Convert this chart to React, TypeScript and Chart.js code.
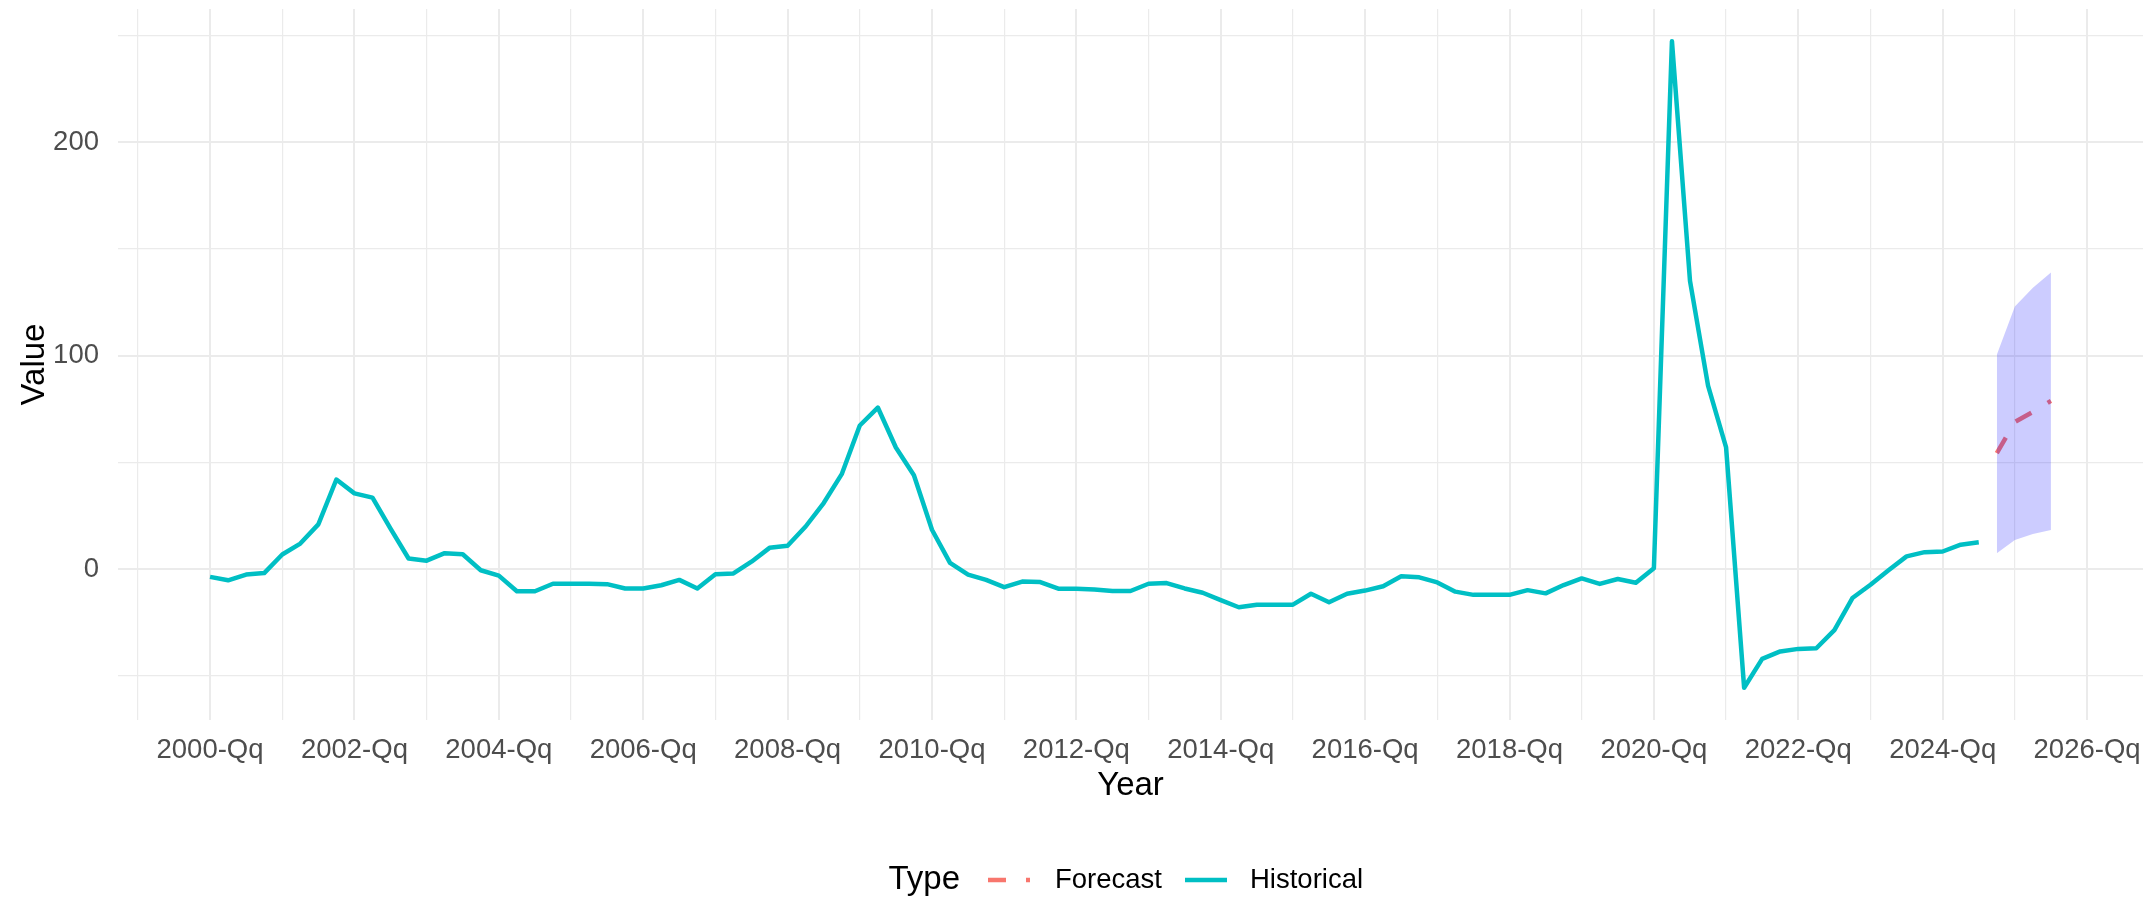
import React, { useEffect, useRef } from 'react';
import { Chart, registerables } from 'chart.js';

Chart.register(...registerables);

const FONT = "'Liberation Sans', Arial, Helvetica, sans-serif";

// ---- data (quarterly, first value = 2000 Q1) ----
const historyStartYear = 2000;
const historicalValues = [
  -3.6, -5.2, -2.5, -1.8,
  6.9, 12, 21, 42,
  35.5, 33.5, 19, 5,
  4, 7.5, 7, -0.5,
  -3, -10.3, -10.3, -6.8,
  -6.8, -6.8, -7, -9,
  -9, -7.5, -5, -9,
  -2.4, -2, 3.5, 10,
  11, 20, 31, 44.5,
  67.3, 75.7, 57, 44,
  18.5, 3, -2.5, -5,
  -8.4, -5.8, -6, -9.1,
  -9.1, -9.5, -10.2, -10.2,
  -6.8, -6.5, -9, -11,
  -14.5, -17.8, -16.6, -16.6,
  -16.6, -11.5, -15.5, -11.5,
  -10, -8, -3.3, -3.8,
  -6.2, -10.5, -12, -12,
  -12, -9.8, -11.3, -7.4,
  -4.3, -6.9, -4.6, -6.3,
  0.5, 247.2, 135, 86,
  57, -55.5, -42, -38.5,
  -37.3, -37, -28.5, -13.5,
  -7.3, -0.5, 6, 8,
  8.3, 11.5, 12.6,
];

// forecast starts 2024 Q4
const forecastStartYear = 2024.75;
const forecastValues = [54.3, 68.9, 73.7, 78.8];
const forecastLower = [7.5, 13.7, 16.5, 18.4];
const forecastUpper = [100.4, 123.0, 131.8, 138.9];

// axis settings
const xLimits = [1998.725, 2026.775];
const yLimits = [-70.6, 262.3];
const xLabelYears = [2000, 2002, 2004, 2006, 2008, 2010, 2012, 2014, 2016, 2018, 2020, 2022, 2024, 2026];
const yLabelValues = [0, 100, 200];

const legendTitle = 'Type';
const legendItems = ['Forecast', 'Historical'];

const HIST_COLOR = '#00BFC4';
const FC_COLOR = '#F8766D';
const RIBBON_COLOR = 'rgba(0, 0, 255, 0.2)';
const GRID_COLOR = '#EBEBEB';

const toPoints = (start: number, values: number[]) =>
  values.map((v, i) => ({ x: start + i / 4, y: v }));

const textPlugin = {
  id: 'ggText',
  afterDraw(chart: any) {
    const ctx = chart.ctx as CanvasRenderingContext2D;
    const area = chart.chartArea;
    ctx.save();
    ctx.fillStyle = '#000000';
    ctx.font = `33px ${FONT}`;
    ctx.textAlign = 'center';
    ctx.textBaseline = 'alphabetic';
    ctx.fillText('Year', (area.left + area.right) / 2, 795);

    ctx.save();
    ctx.translate(44, (area.top + area.bottom) / 2);
    ctx.rotate(-Math.PI / 2);
    ctx.fillText('Value', 0, 0);
    ctx.restore();

    // legend
    const ly = 880;
    ctx.textBaseline = 'middle';
    ctx.textAlign = 'right';
    ctx.font = `33px ${FONT}`;
    ctx.fillText(legendTitle, 960, ly);

    ctx.lineWidth = 4.5;
    ctx.lineCap = 'butt';
    ctx.strokeStyle = FC_COLOR;
    ctx.setLineDash([18, 20]);
    ctx.beginPath();
    ctx.moveTo(988, ly);
    ctx.lineTo(1030, ly);
    ctx.stroke();

    ctx.setLineDash([]);
    ctx.strokeStyle = HIST_COLOR;
    ctx.beginPath();
    ctx.moveTo(1185, ly);
    ctx.lineTo(1227, ly);
    ctx.stroke();

    ctx.textAlign = 'left';
    ctx.font = `27.5px ${FONT}`;
    ctx.fillText(legendItems[0], 1055, ly);
    ctx.fillText(legendItems[1], 1250, ly);
    ctx.restore();
  },
};

export default function App() {
  const ref = useRef<HTMLCanvasElement>(null);

  useEffect(() => {
    const canvas = ref.current;
    if (!canvas) return;
    const chart = new Chart(canvas, {
      type: 'line',
      data: {
        datasets: [
          {
            label: 'upper',
            data: toPoints(forecastStartYear, forecastUpper),
            borderColor: 'rgba(0,0,0,0)',
            borderWidth: 0,
            pointRadius: 0,
            fill: '+1',
            backgroundColor: RIBBON_COLOR,
            tension: 0,
          },
          {
            label: 'lower',
            data: toPoints(forecastStartYear, forecastLower),
            borderColor: 'rgba(0,0,0,0)',
            borderWidth: 0,
            pointRadius: 0,
            fill: false,
            tension: 0,
          },
          {
            label: legendItems[0],
            data: toPoints(forecastStartYear, forecastValues),
            borderColor: FC_COLOR,
            borderWidth: 4.5,
            borderDash: [18, 19],
            pointRadius: 0,
            fill: false,
            tension: 0,
          },
          {
            label: legendItems[1],
            data: toPoints(historyStartYear, historicalValues),
            borderColor: HIST_COLOR,
            borderWidth: 4.5,
            borderJoinStyle: 'round',
            pointRadius: 0,
            fill: false,
            tension: 0,
          },
        ],
      },
      options: {
        responsive: false,
        animation: false,
        devicePixelRatio: 1,
        events: [],
        layout: { padding: { top: 9, right: 9, left: 0, bottom: 0 } },
        plugins: {
          legend: { display: false },
          tooltip: { enabled: false },
          title: { display: false },
        },
        scales: {
          x: {
            type: 'linear',
            min: xLimits[0],
            max: xLimits[1],
            afterFit: (s: any) => {
              s.height = 181;
              s.paddingLeft = 0;
              s.paddingRight = 0;
            },
            border: { display: false },
            grid: {
              drawTicks: false,
              color: GRID_COLOR,
              lineWidth: (c: any) => (c.tick && xLabelYears.includes(c.tick.value) ? 2 : 1.2),
            },
            ticks: {
              stepSize: 1,
              includeBounds: false,
              autoSkip: false,
              maxRotation: 0,
              minRotation: 0,
              padding: 14,
              color: '#4D4D4D',
              font: { family: FONT, size: 27.5 },
              callback: (v: any) => (xLabelYears.includes(Number(v)) ? `${v}-Qq` : ''),
            },
          },
          y: {
            type: 'linear',
            min: yLimits[0],
            max: yLimits[1],
            afterFit: (s: any) => {
              s.width = 118;
              s.paddingTop = 0;
              s.paddingBottom = 0;
            },
            border: { display: false },
            grid: {
              drawTicks: false,
              color: GRID_COLOR,
              lineWidth: (c: any) => (c.tick && yLabelValues.includes(c.tick.value) ? 2 : 1.2),
            },
            ticks: {
              stepSize: 50,
              includeBounds: false,
              autoSkip: false,
              padding: 19,
              color: '#4D4D4D',
              font: { family: FONT, size: 27.5 },
              callback: (v: any) => (yLabelValues.includes(Number(v)) ? String(v) : ''),
            },
          },
        },
      },
      plugins: [textPlugin],
    } as any);
    return () => chart.destroy();
  }, []);

  return (
    <div style={{ position: 'absolute', left: 0, top: 0, width: 2152, height: 901, background: '#ffffff' }}>
      <canvas ref={ref} width={2152} height={901} style={{ display: 'block', width: '2152px', height: '901px' }} />
    </div>
  );
}
